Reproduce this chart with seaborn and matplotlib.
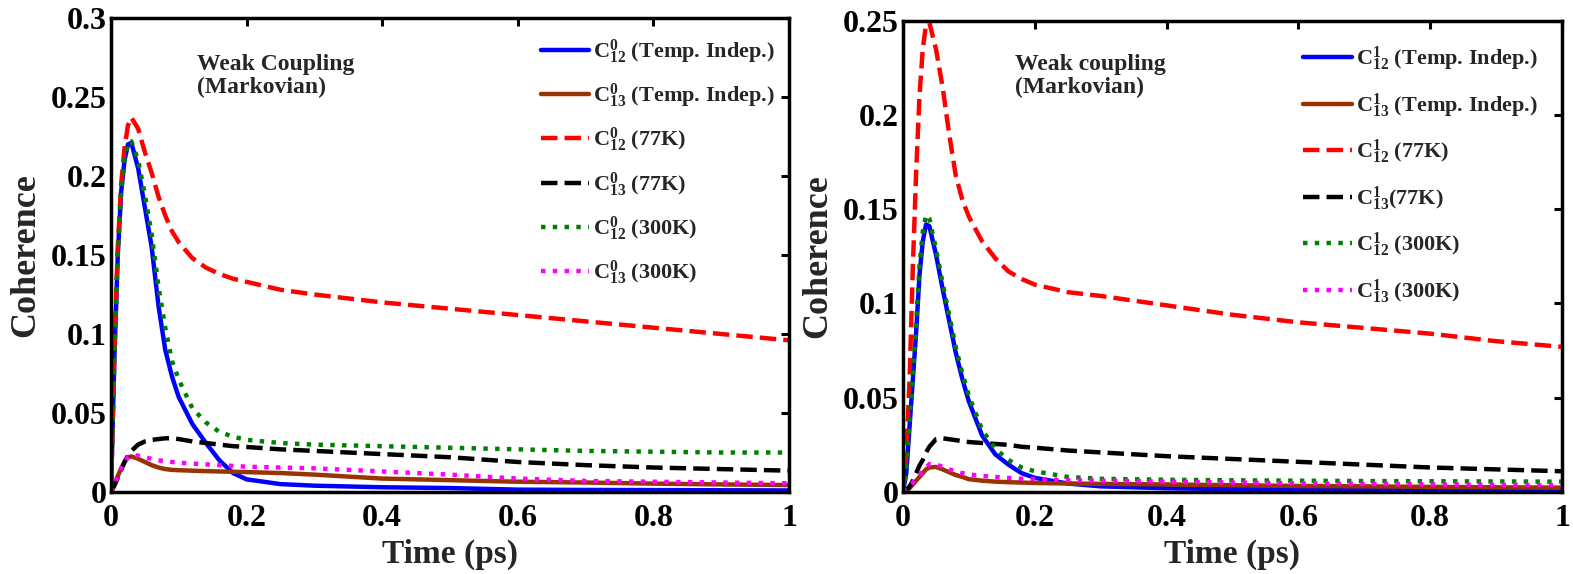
import numpy as np
import pandas as pd
import matplotlib
matplotlib.use("Agg")
import matplotlib.pyplot as plt
import seaborn as sns

sns.set_theme(style="white")
plt.rcParams['font.family'] = ['Liberation Serif', 'DejaVu Serif']
plt.rcParams['font.weight'] = 'bold'
plt.rcParams['mathtext.fontset'] = 'custom'
plt.rcParams['mathtext.rm'] = 'Liberation Serif:bold'
plt.rcParams['mathtext.it'] = 'Liberation Serif:bold'
plt.rcParams['mathtext.bf'] = 'Liberation Serif:bold'

# ---------------- Left panel data (superscript 0) ----------------
t_left = [0, 0.005, 0.01, 0.015, 0.02, 0.025, 0.03, 0.04, 0.05, 0.06, 0.07, 0.08, 0.09, 0.1,
          0.12, 0.14, 0.16, 0.18, 0.2, 0.25, 0.3, 0.4, 0.5, 0.6, 0.7, 0.8, 0.9, 1.0]
c12_0_ti = [0, 0.085, 0.150, 0.190, 0.210, 0.220, 0.221, 0.205, 0.180, 0.155, 0.118, 0.090, 0.073, 0.060,
            0.043, 0.031, 0.020, 0.012, 0.008, 0.005, 0.004, 0.003, 0.0025, 0.0015, 0.0013, 0.0012, 0.0011, 0.001]
c13_0_ti = [0, 0.005, 0.010, 0.015, 0.019, 0.022, 0.0225, 0.021, 0.019, 0.017, 0.0155, 0.0145, 0.014, 0.0138,
            0.0135, 0.0132, 0.013, 0.0128, 0.0126, 0.012, 0.011, 0.0085, 0.0075, 0.0065, 0.006, 0.0053, 0.0048, 0.0044]
c12_0_77 = [0, 0.090, 0.155, 0.195, 0.218, 0.232, 0.237, 0.230, 0.215, 0.202, 0.187, 0.175, 0.165, 0.158,
            0.148, 0.142, 0.138, 0.135, 0.133, 0.128, 0.125, 0.120, 0.116, 0.112, 0.108, 0.104, 0.100, 0.096]
c13_0_77 = [0, 0.004, 0.009, 0.014, 0.019, 0.023, 0.026, 0.030, 0.032, 0.033, 0.0335, 0.034, 0.034, 0.0335,
            0.032, 0.031, 0.030, 0.029, 0.0285, 0.027, 0.026, 0.024, 0.022, 0.019, 0.017, 0.0155, 0.0145, 0.0135]
c12_0_300 = [0, 0.085, 0.150, 0.190, 0.211, 0.221, 0.222, 0.210, 0.188, 0.163, 0.130, 0.104, 0.083, 0.071,
             0.053, 0.044, 0.038, 0.035, 0.033, 0.031, 0.030, 0.029, 0.028, 0.027, 0.026, 0.0255, 0.025, 0.025]
c13_0_300 = [0, 0.005, 0.010, 0.015, 0.019, 0.022, 0.0235, 0.023, 0.022, 0.021, 0.020, 0.0195, 0.019, 0.0185,
             0.018, 0.0175, 0.017, 0.0165, 0.016, 0.0155, 0.015, 0.013, 0.011, 0.0085, 0.007, 0.0065, 0.006, 0.0055]

# ---------------- Right panel data (superscript 1) ----------------
t_right = [0, 0.005, 0.01, 0.015, 0.02, 0.025, 0.03, 0.035, 0.04, 0.05, 0.06, 0.07, 0.08, 0.09, 0.1,
           0.12, 0.14, 0.16, 0.18, 0.2, 0.25, 0.3, 0.4, 0.5, 0.6, 0.7, 0.8, 0.9, 1.0]
c12_1_ti = [0, 0.010, 0.035, 0.060, 0.085, 0.115, 0.133, 0.142, 0.141, 0.126, 0.108, 0.091, 0.074, 0.060, 0.048,
            0.030, 0.020, 0.0145, 0.010, 0.0075, 0.0045, 0.003, 0.002, 0.0015, 0.0013, 0.0012, 0.0011, 0.001, 0.001]
c13_1_ti = [0, 0.001, 0.002, 0.004, 0.006, 0.008, 0.010, 0.012, 0.013, 0.0133, 0.012, 0.0105, 0.009, 0.008, 0.0068,
            0.0060, 0.0055, 0.0052, 0.005, 0.0048, 0.0045, 0.0043, 0.004, 0.0036, 0.0032, 0.003, 0.0027, 0.0025, 0.0023]
c12_1_77 = [0, 0.020, 0.060, 0.120, 0.170, 0.210, 0.235, 0.248, 0.249, 0.235, 0.215, 0.190, 0.168, 0.155, 0.146,
            0.133, 0.124, 0.117, 0.113, 0.110, 0.106, 0.104, 0.099, 0.094, 0.090, 0.087, 0.084, 0.080, 0.077]
c13_1_77 = [0, 0.001, 0.003, 0.006, 0.010, 0.014, 0.017, 0.021, 0.024, 0.028, 0.0285, 0.028, 0.0275, 0.027, 0.0265,
            0.026, 0.0255, 0.025, 0.024, 0.0235, 0.022, 0.021, 0.019, 0.0175, 0.016, 0.0145, 0.013, 0.012, 0.011]
c12_1_300 = [0, 0.012, 0.038, 0.063, 0.090, 0.120, 0.138, 0.147, 0.145, 0.129, 0.111, 0.094, 0.077, 0.063, 0.051,
             0.033, 0.023, 0.017, 0.013, 0.011, 0.008, 0.007, 0.0065, 0.0062, 0.006, 0.0058, 0.0057, 0.0056, 0.0055]
c13_1_300 = [0, 0.0015, 0.003, 0.005, 0.007, 0.009, 0.011, 0.013, 0.0148, 0.0145, 0.0135, 0.012, 0.011, 0.010, 0.0093,
             0.0085, 0.008, 0.0075, 0.007, 0.0068, 0.0063, 0.006, 0.0055, 0.005, 0.0046, 0.0043, 0.004, 0.0038, 0.0036]

x_ticks = [0, 0.2, 0.4, 0.6, 0.8, 1.0]
x_ticklabels = ['0', '0.2', '0.4', '0.6', '0.8', '1']
y_ticks_left = [0, 0.05, 0.1, 0.15, 0.2, 0.25, 0.3]
y_ticklabels_left = ['0', '0.05', '0.1', '0.15', '0.2', '0.25', '0.3']
y_ticks_right = [0, 0.05, 0.1, 0.15, 0.2, 0.25]
y_ticklabels_right = ['0', '0.05', '0.1', '0.15', '0.2', '0.25']

styles = [
    dict(color='#0000ff', linestyle='-'),
    dict(color='#993300', linestyle='-'),
    dict(color='#ff0000', linestyle='--'),
    dict(color='#000000', linestyle='--'),
    dict(color='#008000', linestyle=':'),
    dict(color='#ff00ff', linestyle=':'),
]

fig = plt.figure(figsize=(15.73, 5.74), dpi=100)
axL = fig.add_axes([111/1573, 1-492/574, (789-111)/1573, (492-18)/574])
axR = fig.add_axes([903/1573, 1-492/574, (1562-903)/1573, (492-20.7)/574])


def draw(ax, t, series, labels):
    for idx in range(len(series)):
        st = styles[idx]
        sns.lineplot(x=t, y=series[idx], ax=ax, color=st['color'], linestyle=st['linestyle'],
                     linewidth=3.2, label=labels[idx], legend=False)


left_series = [c12_0_ti, c13_0_ti, c12_0_77, c13_0_77, c12_0_300, c13_0_300]
left_labels = [r'$\mathrm{C}^{0}_{12}$ (Temp. Indep.)', r'$\mathrm{C}^{0}_{13}$ (Temp. Indep.)',
               r'$\mathrm{C}^{0}_{12}$ (77K)', r'$\mathrm{C}^{0}_{13}$ (77K)',
               r'$\mathrm{C}^{0}_{12}$ (300K)', r'$\mathrm{C}^{0}_{13}$ (300K)']
right_series = [c12_1_ti, c13_1_ti, c12_1_77, c13_1_77, c12_1_300, c13_1_300]
right_labels = [r'$\mathrm{C}^{1}_{12}$ (Temp. Indep.)', r'$\mathrm{C}^{1}_{13}$ (Temp. Indep.)',
                r'$\mathrm{C}^{1}_{12}$ (77K)', r'$\mathrm{C}^{1}_{13}$(77K)',
                r'$\mathrm{C}^{1}_{12}$ (300K)', r'$\mathrm{C}^{1}_{13}$ (300K)']

draw(axL, t_left, left_series, left_labels)
draw(axR, t_right, right_series, right_labels)

for ax, yt, ytl, ymax in [(axL, y_ticks_left, y_ticklabels_left, 0.3),
                          (axR, y_ticks_right, y_ticklabels_right, 0.25)]:
    ax.set_xlim(0, 1)
    ax.set_ylim(0, ymax)
    ax.set_xticks(x_ticks)
    ax.set_xticklabels(x_ticklabels)
    ax.set_yticks(yt)
    ax.set_yticklabels(ytl)
    ax.tick_params(direction='in', top=True, right=True, length=6, width=2.2,
                   labelsize=23, colors='black')
    ax.tick_params(axis='x', pad=9)
    ax.tick_params(axis='y', pad=3)
    for sp in ax.spines.values():
        sp.set_linewidth(2.5)
        sp.set_color('black')
    ax.set_ylabel('Coherence', fontsize=26, fontweight='bold', labelpad=6)
    ax.set_xlabel('Time (ps)', fontsize=24, fontweight='bold', labelpad=4)
    ax.set_facecolor('white')

legL = axL.legend(loc='upper left', bbox_to_anchor=(0.634, 0.96), frameon=False,
                  fontsize=16, handlelength=2.15, handletextpad=0.2, labelspacing=0.7,
                  borderaxespad=0, borderpad=0)
legR = axR.legend(loc='upper left', bbox_to_anchor=(0.607, 0.95), frameon=False,
                  fontsize=16, handlelength=2.2, handletextpad=0.2, labelspacing=0.8,
                  borderaxespad=0, borderpad=0)

axL.text(0.127, 0.925, 'Weak Coupling\n(Markovian)', transform=axL.transAxes,
         fontsize=17, fontweight='bold', va='top', ha='left', linespacing=1.12)
axR.text(0.17, 0.93, 'Weak coupling\n(Markovian)', transform=axR.transAxes,
         fontsize=17, fontweight='bold', va='top', ha='left', linespacing=1.12)

fig.savefig('out.png', dpi=100, facecolor='white')
